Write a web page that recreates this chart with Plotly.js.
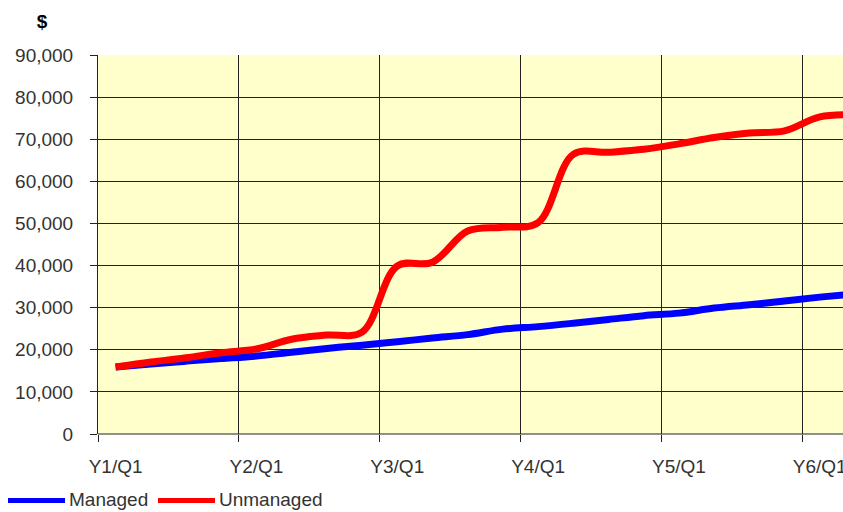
<!DOCTYPE html>
<html>
<head>
<meta charset="utf-8">
<script src="https://cdn.plot.ly/plotly-3.0.1.min.js"></script>
<style>html,body{margin:0;padding:0;background:#fff}#chart{width:843px;height:512px}</style>
</head>
<body>
<div id="chart"></div>
<script>
// Quarter categories (index 0 = Y1/Q1)
const quarters = ["Y1/Q1","Y1/Q2","Y1/Q3","Y1/Q4","Y2/Q1","Y2/Q2","Y2/Q3","Y2/Q4",
  "Y3/Q1","Y3/Q2","Y3/Q3","Y3/Q4","Y4/Q1","Y4/Q2","Y4/Q3","Y4/Q4",
  "Y5/Q1","Y5/Q2","Y5/Q3","Y5/Q4","Y6/Q1","Y6/Q2"];
const managed = [15900,16600,17300,17900,18500,19400,20300,21100,21900,22800,23600,24900,
  25500,26300,27200,28100,28700,29900,30700,31600,32500,33300];
const unmanaged = [15900,17100,18100,19300,20200,22500,23500,24200,39900,40800,48200,49100,
  50200,66400,66900,67600,68900,70400,71500,72000,75300,75800];
const yearLabels = ["Y1/Q1","Y2/Q1","Y3/Q1","Y4/Q1","Y5/Q1","Y6/Q1"];

const idx = quarters.map((q,i)=>i);
const labelVals = yearLabels.map(l=>quarters.indexOf(l));
const boundaryVals = labelVals.map(v=>v-0.5);

const font = {family:"Liberation Sans, Arial, sans-serif", size:19, color:"#333"};

const traces = [
  {x: idx, y: managed, name:"Managed", type:"scatter", mode:"lines",
   line:{color:"#0000FF", width:7, shape:"spline", smoothing:1}, showlegend:false},
  {x: idx, y: unmanaged, name:"Unmanaged", type:"scatter", mode:"lines",
   line:{color:"#FF0000", width:7, shape:"spline", smoothing:1}, showlegend:false}
];

const layout = {
  width:843, height:512,
  margin:{l:98, r:0, t:55, b:78, pad:0},
  paper_bgcolor:"#FFFFFF",
  plot_bgcolor:"#FFFFCC",
  font: font,
  title:{text:"<b>$</b>", xref:"container", yref:"container", x:42/843, xanchor:"center",
         y:1-21/512, yanchor:"middle", font:{family:"Liberation Sans, Arial, sans-serif", size:19, color:"#000"}},
  xaxis:{
    range:[-0.5, 20.66], showgrid:false, zeroline:false,
    tickmode:"array", tickvals: labelVals, ticktext: yearLabels, ticks:"",
    showline:false, tickfont: font, ticklabelstandoff:19, ticklabeloverflow:"allow",
    minor:{tickmode:"array", tickvals: boundaryVals, ticks:"outside", ticklen:7, tickcolor:"#222",
           showgrid:true, gridcolor:"#222", gridwidth:1}
  },
  yaxis:{
    range:[0,90000], dtick:10000, tick0:0, tickformat:",d",
    showgrid:true, gridcolor:"#222", gridwidth:1, zeroline:false,
    ticks:"outside", ticklen:7, tickcolor:"#222", ticklabelstandoff:13,
    showline:true, linecolor:"#222", linewidth:1, tickfont: font
  },
  separators:".,",
  shapes:[
    {type:"line", xref:"paper", yref:"paper", x0:(8-98)/745, x1:(65-98)/745, y0:-(500.5-434)/379, y1:-(500.5-434)/379,
     line:{color:"#0000FF", width:5}},
    {type:"line", xref:"paper", yref:"paper", x0:(158-98)/745, x1:(215-98)/745, y0:-(500.5-434)/379, y1:-(500.5-434)/379,
     line:{color:"#FF0000", width:5}},
    {type:"line", xref:"paper", yref:"paper", x0:0, x1:1, y0:0, y1:0, line:{color:"#222", width:1}}
  ],
  annotations:[
    {text:"Managed", xref:"paper", yref:"paper", x:(67-98)/745, y:-(499-434)/379, xanchor:"left", yanchor:"middle",
     showarrow:false, font:font},
    {text:"Unmanaged", xref:"paper", yref:"paper", x:(217-98)/745, y:-(499-434)/379, xanchor:"left", yanchor:"middle",
     showarrow:false, font:font}
  ]
};

Plotly.newPlot("chart", traces, layout, {displayModeBar:false, staticPlot:true});
</script>
</body>
</html>
